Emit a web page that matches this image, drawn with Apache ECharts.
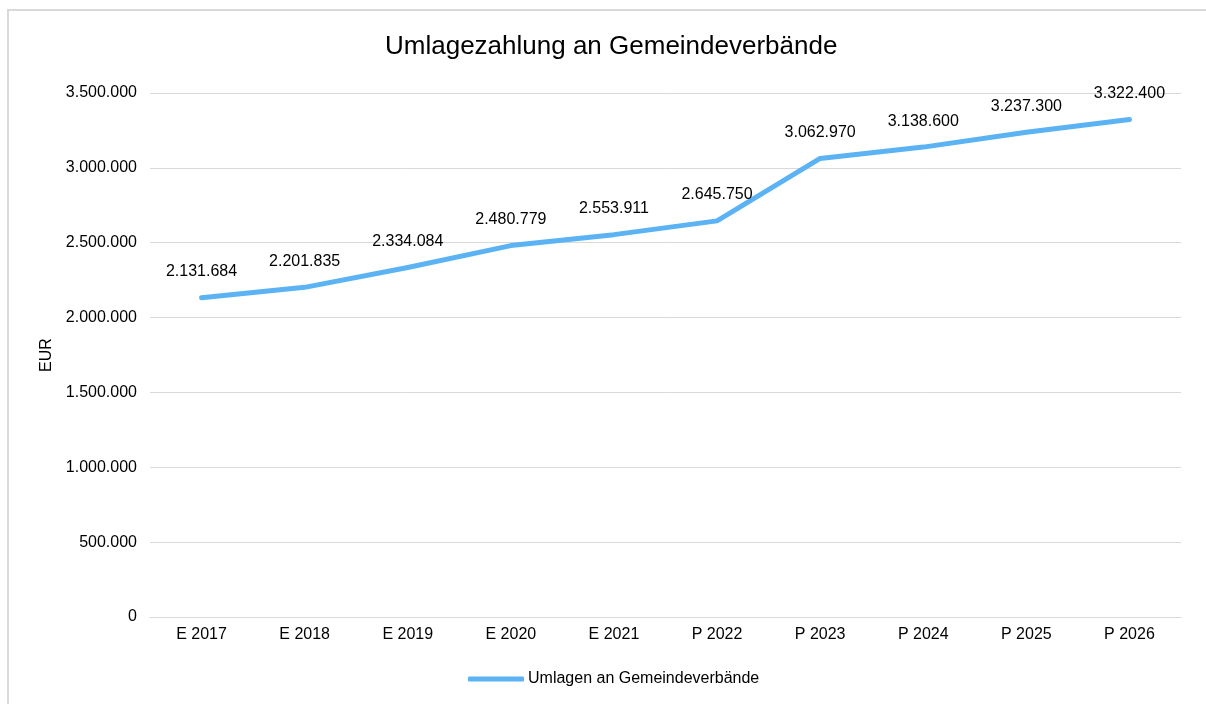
<!DOCTYPE html>
<html>
<head>
<meta charset="utf-8">
<script src="https://cdn.jsdelivr.net/npm/echarts@6/dist/echarts.min.js"></script>
<style>
  html, body { margin: 0; padding: 0; background: #fff; }
  #chart { width: 1206px; height: 704px; }
</style>
</head>
<body>
<div id="chart"></div>
<script>
// Umlagezahlung an Gemeindeverbände
const years = ['E 2017', 'E 2018', 'E 2019', 'E 2020', 'E 2021', 'P 2022', 'P 2023', 'P 2024', 'P 2025', 'P 2026'];
const umlagen = [2131684, 2201835, 2334084, 2480779, 2553911, 2645750, 3062970, 3138600, 3237300, 3322400];
const seriesName = 'Umlagen an Gemeindeverbände';

const fmt = (v) => String(Math.round(v)).replace(/\B(?=(\d{3})+(?!\d))/g, '.');
const font = 'Arial, "Liberation Sans", sans-serif';

let chart = echarts.init(document.getElementById('chart'));
let option = {
  animation: false,
  backgroundColor: '#fff',
  textStyle: { fontFamily: font },
  graphic: [{
    type: 'rect',
    shape: { x: 8, y: 10, width: 1300, height: 800 },
    style: { fill: 'none', stroke: '#d9d9d9', lineWidth: 2 },
    silent: true
  }],
  title: {
    text: 'Umlagezahlung an Gemeindeverbände',
    left: 380,
    top: 29,
    textStyle: { fontFamily: font, fontSize: 26, fontWeight: 'normal', color: '#000' }
  },
  legend: {
    data: [seriesName],
    bottom: 12,
    left: 463,
    itemWidth: 56,
    itemHeight: 5,
    icon: 'roundRect',
    itemGap: 4,
    textStyle: { fontFamily: font, fontSize: 16, color: '#000', padding: [0, 0, 0, -1] }
  },
  grid: { left: 150, right: 25, top: 93, bottom: 87 },
  xAxis: {
    type: 'category',
    data: years,
    boundaryGap: true,
    axisLine: { lineStyle: { color: '#d9d9d9', width: 1 } },
    axisTick: { show: false },
    axisLabel: { color: '#000', fontSize: 16, fontFamily: font, margin: 10 }
  },
  yAxis: {
    type: 'value',
    min: 0,
    max: 3500000,
    interval: 500000,
    name: 'EUR',
    nameLocation: 'middle',
    nameGap: 95,
    nameRotate: 90,
    nameTextStyle: { color: '#000', fontSize: 16, fontFamily: font },
    axisLine: { show: false },
    axisTick: { show: false },
    splitLine: { lineStyle: { color: '#d9d9d9', width: 1 } },
    axisLabel: { color: '#000', fontSize: 16, fontFamily: font, margin: 13, formatter: fmt }
  },
  series: [{
    name: seriesName,
    type: 'line',
    data: umlagen,
    color: '#5cb3f4',
    symbol: 'circle',
    symbolSize: 0,
    showSymbol: true,
    lineStyle: { width: 5, color: '#5cb3f4', cap: 'round', join: 'round' },
    label: {
      show: true,
      position: 'top',
      distance: 18,
      color: '#000',
      fontSize: 16,
      fontFamily: font,
      formatter: (p) => fmt(p.value)
    }
  }]
};
chart.setOption(option);
</script>
</body>
</html>
